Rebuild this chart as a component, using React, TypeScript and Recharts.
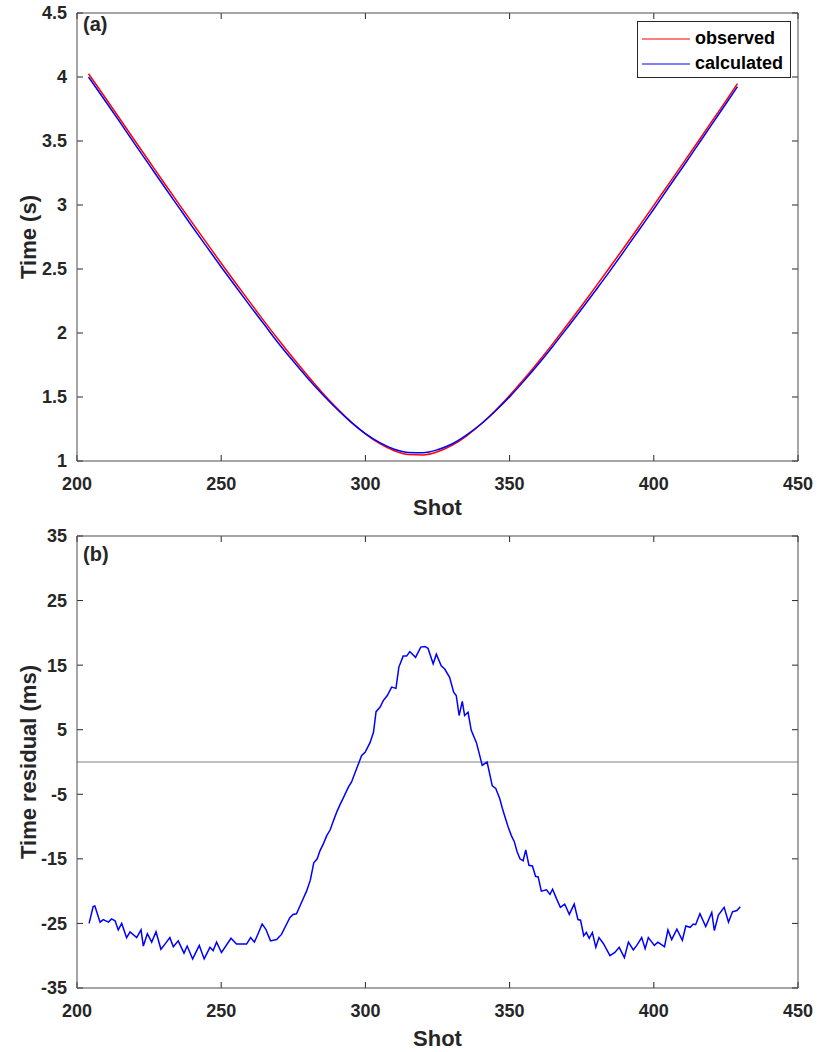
import React from 'react';
import { LineChart, Line, XAxis, YAxis, ReferenceLine, Legend } from 'recharts';

const FONT = "'Liberation Sans', Arial, Helvetica, sans-serif";
const INK = '#262626';
const AXIS = '#4d4d4d';

// shared shot axis
const shotTicks = [200, 250, 300, 350, 400, 450];

// panel (a): travel times in seconds
const timeTicks = [1, 1.5, 2, 2.5, 3, 3.5, 4, 4.5];
const travelShots = [
  204, 210, 215, 220, 225, 230, 235, 240, 245, 250, 255, 260, 265, 270, 275, 280,
  285, 290, 295, 300, 305, 310, 315, 320, 325, 330, 335, 340, 345, 350, 355, 360,
  365, 370, 375, 380, 385, 390, 395, 400, 405, 410, 415, 420, 425, 429,
];
const observed = [
  4.025, 3.832, 3.668, 3.504, 3.342, 3.18, 3.019, 2.86, 2.702, 2.545, 2.391, 2.239, 2.089, 1.943, 1.802, 1.666,
  1.536, 1.416, 1.307, 1.212, 1.135, 1.08, 1.05, 1.047, 1.072, 1.122, 1.195, 1.287, 1.393, 1.512, 1.64, 1.776,
  1.917, 2.064, 2.213, 2.366, 2.521, 2.678, 2.837, 2.997, 3.159, 3.321, 3.484, 3.649, 3.814, 3.948,
];
const calculated = [
  4.0, 3.807, 3.643, 3.477, 3.315, 3.152, 2.991, 2.83, 2.673, 2.516, 2.363, 2.212, 2.064, 1.916, 1.779, 1.647,
  1.523, 1.408, 1.304, 1.214, 1.143, 1.092, 1.067, 1.065, 1.088, 1.133, 1.203, 1.287, 1.389, 1.501, 1.626, 1.758,
  1.897, 2.041, 2.187, 2.338, 2.491, 2.649, 2.809, 2.969, 3.133, 3.295, 3.46, 3.626, 3.791, 3.925,
];
const legendNames = ['observed', 'calculated'];
const legendColors = ['#ff0000', '#0000ff'];

// panel (b): residuals in ms
const residualTicks = [-35, -25, -15, -5, 5, 15, 25, 35];
const residualShots = [
  204.2, 205.6, 206.2, 208.0, 209.1, 210.9, 212.0, 213.2, 214.3, 215.5, 217.2, 218.4, 220.7, 222.2, 223.0, 224.4,
  225.9, 227.4, 229.1, 230.5, 232.2, 233.4, 235.1, 237.1, 238.2, 240.1, 242.4, 244.1, 246.1, 247.2, 248.4, 250.1,
  253.4, 255.3, 258.8, 260.2, 261.5, 262.5, 264.2, 265.5, 267.1, 269.2, 270.9, 273.8, 274.9, 276.1, 277.8, 279.6,
  280.9, 282.1, 283.3, 284.2, 285.5, 286.6, 287.8, 289.0, 290.2, 291.2, 292.3, 294.1, 295.2, 296.9, 298.7, 299.9,
  301.6, 302.8, 303.7, 305.1, 306.2, 307.6, 309.1, 310.6, 311.6, 313.1, 314.3, 315.4, 317.4, 319.2, 320.6, 321.7,
  323.5, 324.6, 326.3, 327.5, 329.2, 330.6, 331.5, 332.5, 333.6, 334.4, 335.6, 336.7, 338.5, 340.5, 342.2, 344.0,
  345.2, 346.6, 347.5, 348.6, 349.6, 350.6, 351.6, 352.6, 353.6, 354.7, 355.6, 356.7, 357.9, 359.0, 359.9, 361.0,
  362.8, 364.0, 364.9, 366.3, 367.6, 369.1, 370.7, 372.4, 373.7, 374.6, 375.7, 376.6, 377.6, 378.7, 379.9, 381.0,
  382.5, 384.8, 386.5, 388.0, 389.8, 391.2, 392.9, 394.1, 395.8, 397.0, 398.1, 400.2, 401.4, 403.7, 404.9, 406.2,
  408.0, 409.9, 411.1, 412.6, 413.7, 414.5, 416.0, 418.0, 420.1, 421.0, 422.4, 424.4, 425.9, 427.3, 428.8, 430.0,
];
const residualMs = [
  -25.0, -22.4, -22.3, -24.8, -24.4, -24.8, -24.3, -24.6, -26.0, -25.0, -27.2, -26.3, -27.2, -26.0, -28.5, -26.6,
  -27.9, -26.3, -29.0, -28.2, -27.2, -28.6, -27.7, -29.6, -28.5, -30.5, -28.4, -30.5, -28.7, -29.2, -27.9, -29.5,
  -27.3, -28.2, -28.2, -27.2, -27.9, -26.9, -25.1, -25.9, -27.7, -27.5, -26.7, -24.1, -23.6, -23.5, -21.8, -20.0,
  -18.3, -15.6, -15.0, -13.8, -12.6, -11.4, -10.5, -9.0, -7.6, -6.6, -5.6, -3.9, -3.1, -1.1, 1.0, 1.5,
  3.0, 4.6, 7.8, 8.5, 9.5, 10.3, 11.6, 11.4, 14.7, 16.4, 16.4, 17.1, 16.2, 17.8, 17.9, 17.6,
  15.2, 16.7, 14.9, 14.4, 13.1, 10.8, 10.3, 7.2, 9.4, 7.2, 7.7, 4.9, 3.0, -0.5, 0.0, -3.7,
  -4.1, -5.7, -7.2, -8.8, -10.2, -11.4, -12.3, -13.9, -15.0, -15.3, -13.6, -16.0, -16.1, -17.7, -17.8, -20.0,
  -19.8, -20.5, -19.7, -21.2, -22.5, -22.0, -23.6, -22.0, -24.4, -24.5, -26.9, -26.4, -27.3, -26.4, -28.7, -27.2,
  -28.1, -30.0, -29.5, -28.7, -30.3, -27.9, -29.1, -28.4, -27.2, -28.9, -27.2, -28.4, -27.9, -28.6, -26.0, -27.5,
  -25.9, -27.6, -25.4, -25.6, -25.1, -25.2, -23.5, -25.5, -23.3, -26.1, -23.7, -22.5, -24.8, -23.2, -23.0, -22.4,
];

const travelData = travelShots.map((shot, i) => ({ shot, observed: observed[i], calculated: calculated[i] }));
const residualData = residualShots.map((shot, i) => ({ shot, residual: residualMs[i] }));

const TICK_LEN = 6;
const labelText = { fontSize: 18, fontWeight: 'bold' as const, fill: INK, fontFamily: FONT };
const tickLineStyle = { stroke: INK, strokeWidth: 1 };

const LeftLabel = (props: any) => (
  <text x={props.x} y={props.y} dy="0.355em" textAnchor="end" {...labelText}>{props.payload.value}</text>
);

const BottomLabel = (props: any) => (
  <text x={props.x} y={props.y + 29} textAnchor="middle" {...labelText}>{props.payload.value}</text>
);

// MATLAB-style inward ticks, drawn at both ends of a reference line through each tick value
const EdgeTicksH = (props: any) => {
  const left = Math.min(props.x1, props.x2);
  const right = Math.max(props.x1, props.x2);
  const y = props.y1;
  return (
    <g>
      <line x1={left} x2={left + TICK_LEN} y1={y} y2={y} {...tickLineStyle} />
      <line x1={right - TICK_LEN} x2={right} y1={y} y2={y} {...tickLineStyle} />
    </g>
  );
};

const EdgeTicksV = (props: any) => {
  const top = Math.min(props.y1, props.y2);
  const bottom = Math.max(props.y1, props.y2);
  const x = props.x1;
  return (
    <g>
      <line x1={x} x2={x} y1={top} y2={top + TICK_LEN} {...tickLineStyle} />
      <line x1={x} x2={x} y1={bottom - TICK_LEN} y2={bottom} {...tickLineStyle} />
    </g>
  );
};

const tickMarks = (yTicks: number[]) => [
  ...yTicks.map((t) => <ReferenceLine key={`y${t}`} y={t} shape={EdgeTicksH} />),
  ...shotTicks.map((t) => <ReferenceLine key={`x${t}`} x={t} shape={EdgeTicksV} />),
];

const yTitle = (text: string) => (props: any) => {
  const { x, y, height } = props.viewBox;
  const cx = x + 28;
  const cy = y + height / 2;
  return (
    <text x={cx} y={cy} transform={`rotate(-90, ${cx}, ${cy})`} textAnchor="middle" dy="0.36em"
      fontSize={22} fontWeight="bold" fill={INK} fontFamily={FONT}>
      {text}
    </text>
  );
};

const xTitle = (text: string, down: number) => (props: any) => {
  const { x, y, width } = props.viewBox;
  return (
    <text x={x + width / 2} y={y + down} textAnchor="middle" fontSize={22} fontWeight="bold" fill={INK} fontFamily={FONT}>
      {text}
    </text>
  );
};

// the top axis box is 1px tall and sits just above the plot
const panelTag = (text: string, down: number) => (props: any) => {
  const { x, y } = props.viewBox;
  return (
    <text x={x + 6} y={y + 1 + down} fontSize={20} fontWeight="bold" fill={INK} fontFamily={FONT}>
      {text}
    </text>
  );
};

const LegendBox = () => (
  <div style={{ border: `1px solid ${INK}`, background: '#fff', boxSizing: 'border-box', width: 154, height: 57, paddingTop: 4 }}>
    {legendNames.map((name, i) => (
      <div key={name} style={{ display: 'flex', alignItems: 'center', height: 25 }}>
        <svg width={48} height={4} style={{ marginLeft: 4, marginRight: 5 }}>
          <line x1={0} x2={48} y1={2} y2={2} stroke={legendColors[i]} strokeWidth={1.2} />
        </svg>
        <span style={{ fontSize: 18, fontWeight: 'bold', color: '#000', fontFamily: FONT, lineHeight: '25px' }}>{name}</span>
      </div>
    ))}
  </div>
);

// top and right axes close the box; recharts skips axes of zero size, so they get 1px
const frameAxes = (yDomain: number[], tag: string, tagDown: number) => [
  <XAxis key="top" xAxisId="top" orientation="top" type="number" domain={[200, 450]} allowDataOverflow
    height={1} tick={false} tickLine={false} axisLine={{ stroke: AXIS }} label={panelTag(tag, tagDown)} />,
  <YAxis key="right" yAxisId="right" orientation="right" type="number" domain={yDomain} allowDataOverflow
    width={1} tick={false} tickLine={false} axisLine={{ stroke: AXIS }} />,
];

export default function App() {
  return (
    <div style={{ position: 'absolute', left: 0, top: 0, width: 817, height: 1052, background: '#fff', fontFamily: FONT }}>
      <div style={{ position: 'absolute', left: 0, top: 0 }}>
        <LineChart width={817} height={520} data={travelData} margin={{ top: 12, right: 18, bottom: 0, left: 0 }}>
          <XAxis dataKey="shot" type="number" domain={[200, 450]} ticks={shotTicks} height={59} allowDataOverflow
            tickSize={0} tickMargin={0} tickLine={false} tick={<BottomLabel />} axisLine={{ stroke: AXIS }}
            label={xTitle('Shot', 54)} />
          <YAxis type="number" domain={[1, 4.5]} ticks={timeTicks} width={77} allowDataOverflow
            tickSize={0} tickMargin={10} tickLine={false} tick={<LeftLabel />} axisLine={{ stroke: AXIS }}
            label={yTitle('Time (s)')} />
          {frameAxes([1, 4.5], '(a)', 18)}
          {tickMarks(timeTicks)}
          <Legend layout="vertical" align="center" verticalAlign="middle" content={<LegendBox />}
            wrapperStyle={{ left: 637, top: 21, width: 154, height: 57 }} />
          <Line xAxisId="top" yAxisId="right" dataKey="observed" stroke="transparent" legendType="none"
            dot={false} activeDot={false} isAnimationActive={false} />
          <Line type="monotone" dataKey="observed" name="observed" stroke={legendColors[0]} strokeWidth={1.5} dot={false} isAnimationActive={false} />
          <Line type="monotone" dataKey="calculated" name="calculated" stroke={legendColors[1]} strokeWidth={1.5} dot={false} isAnimationActive={false} />
        </LineChart>
      </div>
      <div style={{ position: 'absolute', left: 0, top: 520 }}>
        <LineChart width={817} height={532} data={residualData} margin={{ top: 15, right: 18, bottom: 0, left: 0 }}>
          <XAxis dataKey="shot" type="number" domain={[200, 450]} ticks={shotTicks} height={64} allowDataOverflow
            tickSize={0} tickMargin={0} tickLine={false} tick={<BottomLabel />} axisLine={{ stroke: AXIS }}
            label={xTitle('Shot', 58)} />
          <YAxis type="number" domain={[-35, 35]} ticks={residualTicks} width={77} allowDataOverflow
            tickSize={0} tickMargin={10} tickLine={false} tick={<LeftLabel />} axisLine={{ stroke: AXIS }}
            label={yTitle('Time residual (ms)')} />
          {frameAxes([-35, 35], '(b)', 25)}
          {tickMarks(residualTicks)}
          <ReferenceLine y={0} stroke="#808080" strokeWidth={1} />
          <Line xAxisId="top" yAxisId="right" dataKey="residual" stroke="transparent" legendType="none"
            dot={false} activeDot={false} isAnimationActive={false} />
          <Line dataKey="residual" stroke="#0000ff" strokeWidth={1.5} dot={false} isAnimationActive={false} />
        </LineChart>
      </div>
    </div>
  );
}
